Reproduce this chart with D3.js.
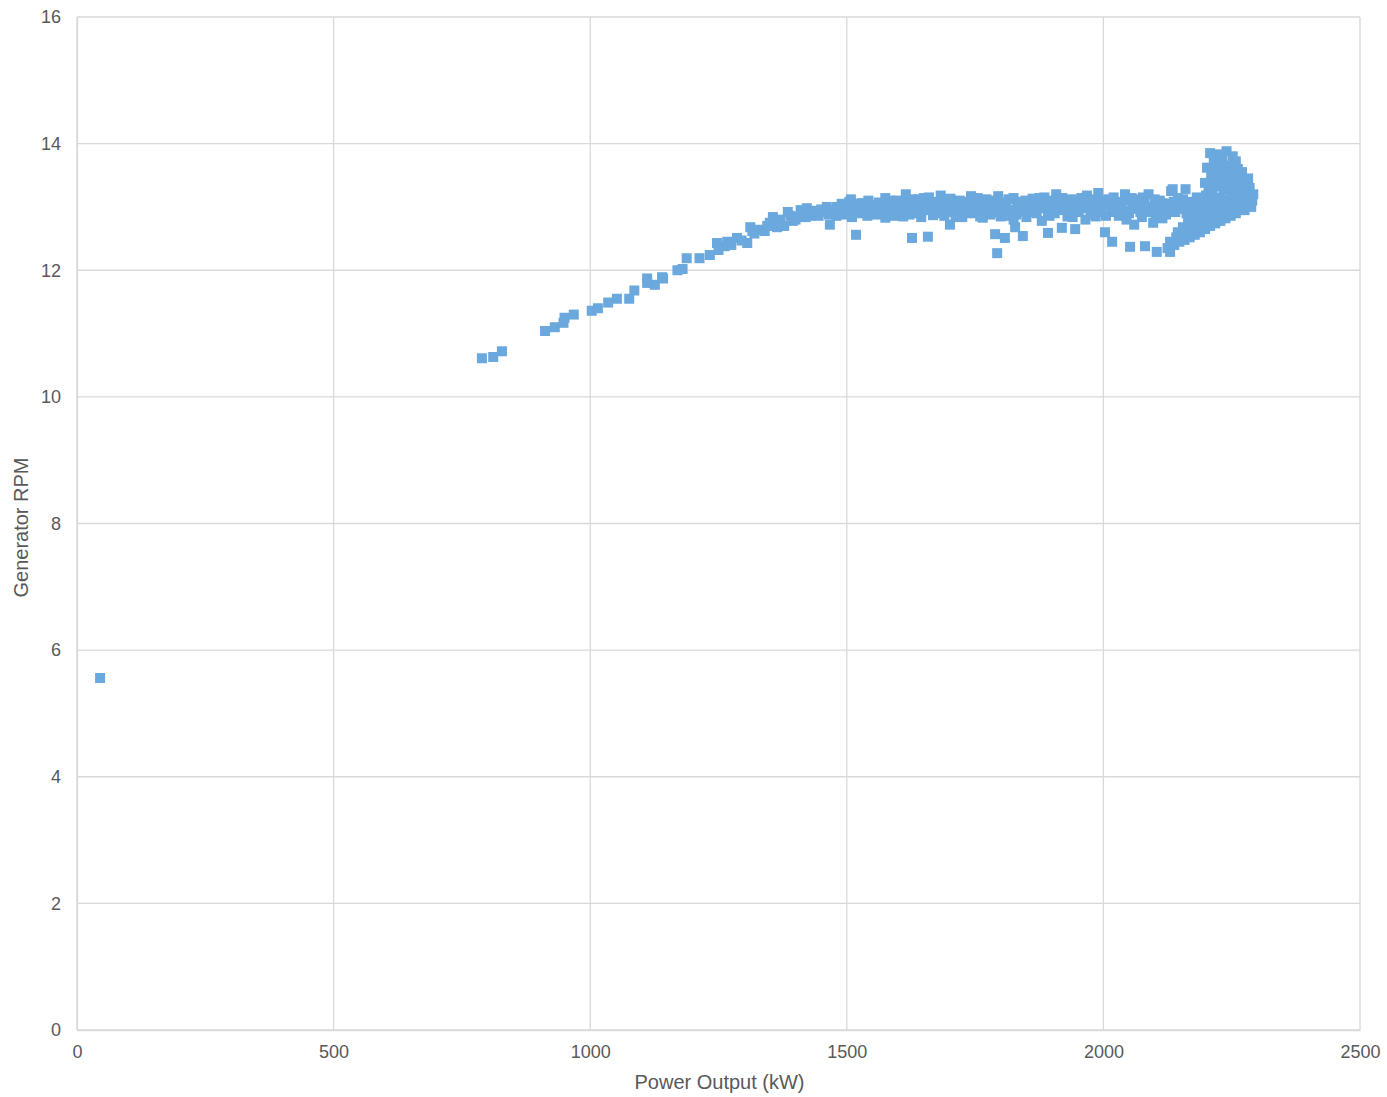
<!DOCTYPE html>
<html>
<head>
<meta charset="utf-8">
<script src="https://cdn.jsdelivr.net/npm/d3@7"></script>
<style>
  body { margin: 0; background: #fff; }
  text { font-family: "Liberation Sans", Arial, sans-serif; fill: #595959; }
</style>
</head>
<body>
<div id="container"></div>
<script>
var xTicks = [0, 500, 1000, 1500, 2000, 2500];
var yTicks = [0, 2, 4, 6, 8, 10, 12, 14, 16];
var xTitle = "Power Output (kW)";
var yTitle = "Generator RPM";

// rising part of the curve
var risePoints = [
  [45,5.56],
  [789,10.61],[811,10.63],[828,10.72],
  [912,11.04],[931,11.10],[948,11.17],[950,11.25],[968,11.30],
  [1003,11.36],[1015,11.40],[1035,11.49],[1052,11.55],[1076,11.55],[1086,11.68],
  [1111,11.87],[1126,11.77],[1142,11.87],[1111,11.80],[1140,11.89],
  [1170,12.00],[1188,12.19],[1180,12.02],[1213,12.19],[1233,12.24],[1247,12.43],[1250,12.32],
  [1262,12.38],[1267,12.45],[1275,12.40],[1286,12.51],[1295,12.47],[1306,12.43],[1312,12.68],
  [1320,12.58],[1331,12.64],[1340,12.62],[1350,12.75],[1356,12.84],[1364,12.68],[1370,12.80],
  [1378,12.70],[1385,12.92],[1395,12.78],[1403,12.84],[1410,12.95],[1422,12.98],[1430,12.86],
  [1442,12.90],[1450,12.96],[1461,13.00],[1467,12.72],[1481,13.00],
  [1316,12.62],[1345,12.70],[1362,12.78],[1390,12.86],[1415,12.88],[1436,12.94],[1456,12.92],[1472,12.95],
  [1400,12.80],[1420,12.84],[1445,12.86],[1465,12.88]
];

// flat band
var bandPoints = [
  [1490,13.05],[1495,12.92],[1505,13.08],[1512,12.95],[1520,13.02],[1530,13.06],[1538,12.93],
  [1545,13.03],[1555,12.98],[1562,13.07],[1570,12.90],[1578,13.04],[1585,13.10],[1592,12.86],
  [1600,13.00],[1608,13.08],[1615,13.20],[1622,12.88],[1630,13.03],[1638,13.12],[1645,12.93],
  [1652,13.06],[1660,13.15],[1668,12.87],[1675,13.00],[1683,13.18],[1690,13.08],[1698,12.92],
  [1705,13.04],[1712,12.84],[1720,13.10],[1728,12.97],[1735,13.02],[1742,13.17],[1750,12.90],
  [1758,13.05],[1765,12.95],[1772,13.12],[1780,12.88],[1788,13.00],[1795,13.17],[1802,12.93],
  [1810,13.07],[1818,12.86],[1825,13.14],[1832,13.02],[1840,12.92],[1848,13.10],[1855,13.00],
  [1862,13.13],[1870,12.90],[1878,13.05],[1885,13.15],[1892,12.88],[1900,13.00],[1908,13.20],
  [1915,12.95],[1922,13.08],[1930,12.85],[1938,13.12],[1945,13.02],[1952,12.92],[1960,13.06],
  [1968,13.18],[1975,12.88],[1983,13.00],[1990,13.22],[1998,13.10],[2005,12.86],[2012,13.04],
  [2020,13.15],[2028,12.95],[2035,13.08],[2042,13.20],[2050,12.90],[2058,13.02],[2065,13.12],
  [2072,12.92],[2080,13.06],[2088,13.20],[2095,13.00],[2102,12.88],[2110,13.10],[2118,12.96],
  [2125,13.05],[2132,13.25],[2140,12.92],[2148,13.02],[2155,13.12],[2162,12.90],[2170,13.08],
  [2178,13.00],[2185,12.95],
  [1485,12.95],[1500,13.00],[1515,13.05],[1535,12.98],[1550,12.92],[1565,13.00],[1582,12.95],
  [1598,13.10],[1612,12.96],[1627,13.12],[1642,13.02],[1657,12.95],[1672,13.08],[1688,12.96],
  [1702,13.13],[1717,13.00],[1732,12.90],[1747,13.05],[1762,13.10],[1777,13.00],[1792,12.92],
  [1807,13.00],[1822,12.95],[1837,13.08],[1852,12.93],[1867,13.05],[1882,12.98],[1897,13.10],
  [1912,13.05],[1927,13.00],[1942,12.92],[1957,13.14],[1972,13.05],[1987,12.93],[2002,13.02],
  [2017,12.92],[2032,13.00],[2047,13.10],[2062,12.97],[2077,13.15],[2092,12.93],[2107,13.02],
  [2122,12.88],[2137,13.08],[2152,12.97],[2167,13.04],[2182,13.15],[2135,13.28],[2160,13.28],
  [1492,12.88],[1508,13.12],[1525,12.90],[1542,13.10],[1558,12.88],[1575,13.14],[1590,13.05],
  [1605,12.92],[1620,13.05],[1635,12.90],[1650,13.14],[1665,13.04],[1680,12.90],[1695,13.12],
  [1710,12.95],[1725,13.08],[1740,12.92],[1755,13.14],[1770,12.90],[1785,13.10],[1800,13.04],
  [1815,13.12],[1830,12.88],[1845,13.02],[1860,12.92],[1875,13.14],[1890,13.05],[1905,12.90],
  [1920,13.14],[1935,12.93],[1950,13.10],[1965,12.98],[1980,13.12],[1995,12.92],[2010,13.12],
  [2025,13.05],[2040,12.94],[2055,13.14],[2070,13.04],[2085,12.92],[2100,13.12],[2115,13.06],
  [2130,12.96],[2145,13.14],[2160,13.05],[2175,12.92],[2190,13.08],
  [1480,12.86],[1510,12.84],[1540,12.86],[1575,12.83],[1610,12.85],[1645,12.84],[1690,12.86],
  [1725,12.84],[1765,12.83],[1800,12.85],[1850,12.84],[1895,12.86],[1940,12.84],[1985,12.85],
  [2030,12.86],[2075,12.84],[2110,12.86]
];

// scattered low points under the band
var lowPoints = [
  [1518,12.56],[1627,12.51],[1658,12.53],[1701,12.72],[1789,12.57],[1793,12.27],[1808,12.51],
  [1828,12.68],[1843,12.54],[1892,12.59],[1919,12.67],[1945,12.65],[2003,12.60],[2017,12.45],
  [2052,12.37],[2081,12.38],[2104,12.29],[2130,12.29],[2097,12.75],[2115,12.82],[1965,12.80],
  [1880,12.78],[1825,12.80],[1760,12.85],[2045,12.80],[2060,12.72]
];

// hook at rated power
var hookPoints = [
  [2125,12.35],[2130,12.45],[2138,12.40],[2142,12.52],[2148,12.45],[2152,12.58],[2158,12.48],
  [2162,12.62],[2168,12.52],[2172,12.68],[2178,12.56],[2182,12.72],[2188,12.60],[2192,12.76],
  [2198,12.65],[2202,12.80],[2208,12.70],[2212,12.84],[2218,12.74],[2222,12.88],[2228,12.78],
  [2232,12.92],[2238,12.82],[2242,12.95],[2248,12.86],[2252,12.98],[2258,12.90],[2262,13.02],
  [2268,12.95],[2275,13.05],[2145,12.60],[2155,12.68],[2165,12.75],[2175,12.82],[2185,12.88],
  [2195,12.92],[2205,12.95],
  [2208,13.85],[2225,13.83],[2240,13.88],[2252,13.80],[2258,13.72],[2202,13.62],[2215,13.70],
  [2232,13.75],[2248,13.65],[2262,13.60],[2210,13.50],[2222,13.58],[2238,13.55],[2255,13.50],
  [2268,13.45],[2215,13.40],[2230,13.45],[2245,13.40],[2260,13.35],[2275,13.38],[2285,13.30],
  [2205,13.30],[2220,13.32],[2235,13.28],[2250,13.25],[2265,13.22],[2280,13.18],[2290,13.10],
  [2200,13.18],[2212,13.22],[2228,13.15],[2242,13.12],[2258,13.10],[2272,13.05],[2288,13.00],
  [2195,13.08],[2210,13.05],[2225,13.00],[2240,12.98],[2255,12.95],[2275,12.95],[2190,12.98],
  [2205,12.92],[2220,12.90],[2235,12.88],[2250,13.05],
  [2218,13.78],[2232,13.62],[2246,13.52],[2270,13.55],[2278,13.25],[2292,13.20],[2282,13.45],
  [2215,13.55],[2228,13.38],[2242,13.30],[2262,13.48],[2198,13.38],[2210,13.15],[2268,13.12],
  [2170,12.62],[2180,12.66],[2190,12.70],[2200,12.74],[2215,12.80],[2228,12.86]
];

var margin = {top: 17, right: 27, bottom: 67, left: 77},
    width = 1387 - margin.left - margin.right,
    height = 1097 - margin.top - margin.bottom;

var svg = d3.select("#container")
  .append("svg")
    .attr("width", 1387)
    .attr("height", 1097)
  .append("g")
    .attr("transform", "translate(" + margin.left + "," + margin.top + ")");

var x = d3.scaleLinear().domain([0, 2500]).range([0, width]);
var y = d3.scaleLinear().domain([0, 16]).range([height, 0]);

// gridlines
svg.selectAll(".vgrid").data(xTicks).enter().append("line")
  .attr("x1", function(d) { return x(d); }).attr("x2", function(d) { return x(d); })
  .attr("y1", 0).attr("y2", height)
  .attr("stroke", "#d9d9d9").attr("stroke-width", 1.3);
svg.selectAll(".hgrid").data(yTicks).enter().append("line")
  .attr("y1", function(d) { return y(d); }).attr("y2", function(d) { return y(d); })
  .attr("x1", 0).attr("x2", width)
  .attr("stroke", "#d9d9d9").attr("stroke-width", 1.3);

// axes
var xAxis = svg.append("g")
  .attr("transform", "translate(0," + height + ")")
  .call(d3.axisBottom(x).tickValues(xTicks).tickFormat(d3.format("d")).tickSize(0).tickPadding(15));
var yAxis = svg.append("g")
  .call(d3.axisLeft(y).tickValues(yTicks).tickFormat(d3.format("d")).tickSize(0).tickPadding(16));
[xAxis, yAxis].forEach(function(a) {
  a.select(".domain").attr("stroke", "#d9d9d9").attr("stroke-width", 1.3);
  a.selectAll("text").style("font-size", "18px").style("fill", "#595959")
    .style("font-family", "'Liberation Sans', Arial, sans-serif");
});

svg.append("text")
  .attr("x", width / 2 + 1).attr("y", height + 59)
  .attr("text-anchor", "middle")
  .style("font-size", "20px")
  .text(xTitle);
svg.append("text")
  .attr("transform", "translate(-49," + (height / 2 + 4) + ") rotate(-90)")
  .attr("text-anchor", "middle")
  .style("font-size", "20px")
  .text(yTitle);

var allPoints = risePoints.concat(bandPoints, lowPoints, hookPoints);
var s = 10;
svg.selectAll("rect.pt").data(allPoints).enter().append("rect")
  .attr("class", "pt")
  .attr("x", function(d) { return x(d[0]) - s / 2; })
  .attr("y", function(d) { return y(d[1]) - s / 2; })
  .attr("width", s).attr("height", s)
  .attr("fill", "#6aa8dd");
</script>
</body>
</html>
